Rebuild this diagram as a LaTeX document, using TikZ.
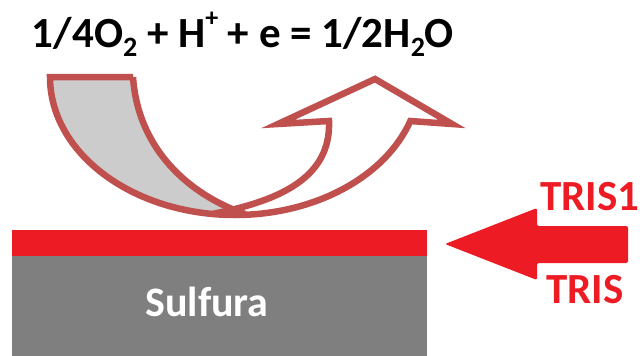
\documentclass[tikz,border=0pt]{standalone}
\usepackage{fontspec}
\setmainfont{Carlito}
\usepackage{xcolor}
\usepackage{tikz}
\usetikzlibrary{positioning}
\definecolor{layerred}{HTML}{ED1C24}
\definecolor{sulfgray}{HTML}{7F7F7F}
\definecolor{curvered}{HTML}{C0504D}
\definecolor{tailgray}{HTML}{CCCCCC}
\newcommand{\chemsub}[1]{\raisebox{-0.22em}{\fontsize{28}{28}\selectfont #1}}
\newcommand{\chemsup}[1]{\raisebox{0.48em}{\fontsize{26}{26}\selectfont #1}}

\begin{document}
\begin{tikzpicture}[
  x=1pt, y=1pt,
  bigtext/.style={font=\fontsize{43}{50}\selectfont\bfseries, inner sep=0pt, anchor=base},
  trislabel/.style={bigtext, text=layerred},
  curveline/.style={draw=curvered, line width=6.5pt, line join=miter},
]
\useasboundingbox (0,0) rectangle (640,-356);

% substrate
\fill[sulfgray] (12,-256) rectangle (427,-356);
\fill[layerred] (12,-230) rectangle (427,-256);
\node[bigtext, text=white, font=\fontsize{42}{50}\selectfont\bfseries] (sulfura) at (207,-316) {Sulfura};

% incoming arrow
\fill[layerred, rounded corners=2pt] (445,-244) -- (537,-208) -- (537,-226)
  -- (628,-226) -- (628,-263) -- (537,-263) -- (537,-280) -- cycle;
\node[trislabel] (tris1) at (590,-210) {TRIS1};
\node[trislabel] (tris) at (585,-303) {TRIS};

\node[bigtext] (reaction) at (243,-47)
  {1/4O\chemsub{2} + H\chemsup{+} + e = 1/2H\chemsub{2}O};

% u-turn arrow
\fill[tailgray] (50,-77) -- (133,-77) .. controls (138,-150) and (190,-195) .. (245,-214.8)
  arc[start angle=273.1, end angle=180, x radius=185, y radius=138] -- cycle;
\draw[curveline] (133,-77) -- (50,-77)
  arc[start angle=180, end angle=341.4, x radius=185, y radius=138]
  -- (452,-124) -- (375,-79) -- (278,-124) -- (329,-121)
  .. controls (331,-175) and (285,-200) .. (212,-214);
\draw[curveline] (133,-77) .. controls (138,-150) and (190,-195) .. (245,-214);

\end{tikzpicture}
\end{document}
